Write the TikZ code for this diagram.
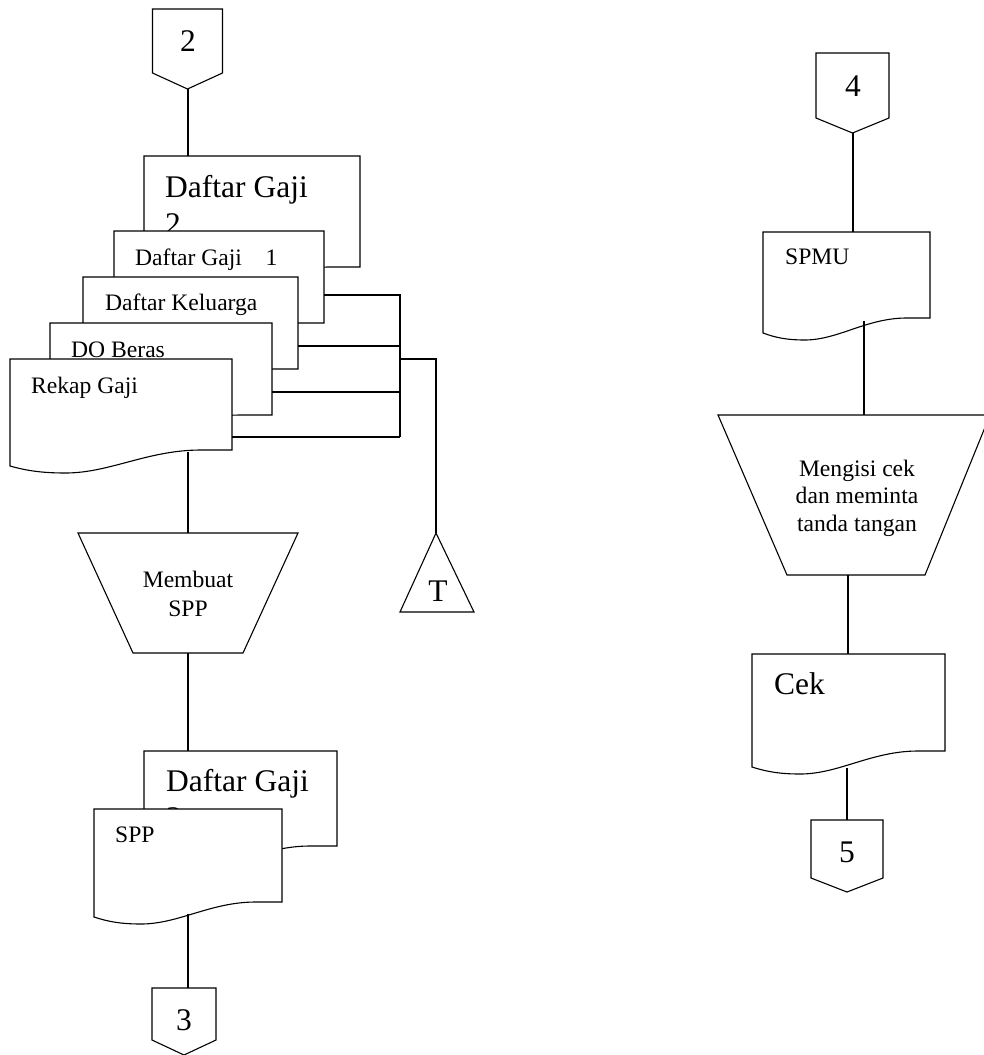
\documentclass[tikz,border=0pt]{standalone}
\usepackage{fontspec}
\setmainfont{Liberation Serif}

% document symbol: left, top, right, right bottom, left bottom (px)
\newcommand{\docshape}[5]{%
  \filldraw[docline] (#1,#5) -- (#1,#2) -- (#3,#2) -- (#3,#4)
    -- ({#1+0.86*(#3-#1)},#4)
    .. controls ({#1+0.62*(#3-#1)},#4) and ({#1+0.45*(#3-#1)},{#5+7}) .. ({#1+0.25*(#3-#1)},{#5+7})
    .. controls ({#1+0.15*(#3-#1)},{#5+7}) and ({#1+0.08*(#3-#1)},{#5+5}) .. (#1,#5) -- cycle;}

% off-page connector: centre x, top, half width, side bottom, tip
\newcommand{\offpage}[5]{%
  \filldraw[docline] ({#1-#3},#2) -- ({#1+#3},#2) -- ({#1+#3},#4) -- (#1,#5)
    -- ({#1-#3},#4) -- cycle;}

\tikzset{
  flowline/.style={line width=1.1pt},
  docline/.style={line width=1.1pt, fill=white, draw=black},
  bigtext/.style={font=\fontsize{31.5}{37}\selectfont, inner sep=0pt},
  smalltext/.style={font=\fontsize{23.6}{28}\selectfont, inner sep=0pt},
}

\begin{document}
\begin{tikzpicture}[x=1pt,y=-1pt]

% ---------- page (measured from source, 1 unit = 1 px, y downwards) ----------
\useasboundingbox (0,0) rectangle (983,1055);

% ---------- left column: connector 2 ----------
\offpage{187.5}{9}{35}{73}{89}
\node[bigtext, anchor=base] (numtwo) at (188,51) {2};
\coordinate (twoTip) at (188,89);

% ---------- stack of documents ----------
\docshape{144}{156}{360}{267}{283}
\coordinate (gajiTwoTop) at (188,156);
\node[bigtext, anchor=base west] (gajiTwo) at (165,197) {Daftar Gaji};
\node[bigtext, anchor=base west] (gajiTwoNum) at (165,234) {2};

\docshape{114}{231}{324}{323}{339}
\node[smalltext, anchor=base west] (gajiOne) at (135,265) {Daftar Gaji\quad 1};

\docshape{83}{277}{298}{369}{385}
\node[smalltext, anchor=base west] (keluarga) at (105,310) {Daftar Keluarga};

\docshape{50}{323}{272}{415}{431}
\node[smalltext, anchor=base west] (beras) at (71,357) {DO Beras};

\docshape{10}{359}{232}{450}{466}
\node[smalltext, anchor=base west] (rekap) at (31,393) {Rekap Gaji};
\coordinate (rekapOut) at (188,452);

% ---------- lines to the file ----------
\coordinate (gajiOneOut) at (324,295);
\coordinate (keluargaOut) at (298,346);
\coordinate (berasOut) at (272,392);
\coordinate (rekapSide) at (232,437);
\coordinate (busTop) at (400,295);
\coordinate (busK) at (400,346);
\coordinate (busD) at (400,392);
\coordinate (busBot) at (400,437);
\coordinate (busT) at (400,359);
\coordinate (fileBend) at (436,359);

\draw[flowline] (gajiOneOut) -- (busTop) -- (busBot);
\draw[flowline] (keluargaOut) -- (busK);
\draw[flowline] (berasOut) -- (busD);
\draw[flowline] (rekapSide) -- (busBot);

% ---------- file T ----------
\filldraw[docline] (436,533) -- (474,612) -- (400,612) -- cycle;
\coordinate (fileTop) at (436,533);
\node[bigtext, anchor=base] (fileT) at (438,601) {T};
\draw[flowline] (busT) -- (fileBend) -- (fileTop);

% ---------- process: Membuat SPP ----------
\filldraw[docline] (78,533) -- (298,533) -- (243,653) -- (133,653) -- cycle;
\coordinate (buatTop) at (188,533);
\coordinate (buatBot) at (188,653);
\node[smalltext, align=center, font=\fontsize{23.6}{29}\selectfont] (buat) at (188,594) {Membuat\\SPP};

% ---------- outputs ----------
\docshape{144}{751}{337}{846}{862}
\coordinate (gajiBTop) at (188,751);
\node[bigtext, anchor=base west] (gajiB) at (166,791) {Daftar Gaji};
\node[bigtext, anchor=base west] (gajiBNum) at (166,828) {2};

\docshape{94}{809}{282}{902}{917}
\node[smalltext, anchor=base west] (spp) at (115,842) {SPP};
\coordinate (sppOut) at (188,914);

% ---------- connector 3 ----------
\offpage{184}{988}{32}{1040}{1055}
\coordinate (threeTop) at (188,988);
\node[bigtext, anchor=base] (numthree) at (184,1030) {3};

\draw[flowline] (twoTip) -- (gajiTwoTop);
\draw[flowline] (rekapOut) -- (buatTop);
\draw[flowline] (buatBot) -- (gajiBTop);
\draw[flowline] (sppOut) -- (threeTop);

% ---------- right column: connector 4 ----------
\offpage{852.5}{53}{36.5}{118}{133}
\node[bigtext, anchor=base] (numfour) at (853,96) {4};
\coordinate (fourTip) at (853,133);

\docshape{763}{232}{930}{318}{333}
\coordinate (spmuTop) at (853,232);
\coordinate (spmuOut) at (864,321);
\node[smalltext, anchor=base west] (spmu) at (785,264) {SPMU};

% ---------- process: Mengisi cek ----------
\filldraw[docline] (718,415) -- (990,415) -- (925,575) -- (787,575) -- cycle;
\coordinate (isiTop) at (864,415);
\coordinate (isiBot) at (848,575);
\node[smalltext, align=center, font=\fontsize{23.6}{27.5}\selectfont] (isi) at (857,498) {Mengisi cek\\dan meminta\\tanda tangan};

\docshape{752}{654}{945}{751}{767}
\coordinate (cekTop) at (848,654);
\coordinate (cekOut) at (847,768);
\node[bigtext, anchor=base west] (cek) at (774,694) {Cek};

% ---------- connector 5 ----------
\offpage{847}{820}{36}{878}{892}
\coordinate (fiveTop) at (847,820);
\node[bigtext, anchor=base] (numfive) at (847,862) {5};

\draw[flowline] (fourTip) -- (spmuTop);
\draw[flowline] (spmuOut) -- (isiTop);
\draw[flowline] (isiBot) -- (cekTop);
\draw[flowline] (cekOut) -- (fiveTop);

\end{tikzpicture}
\end{document}
